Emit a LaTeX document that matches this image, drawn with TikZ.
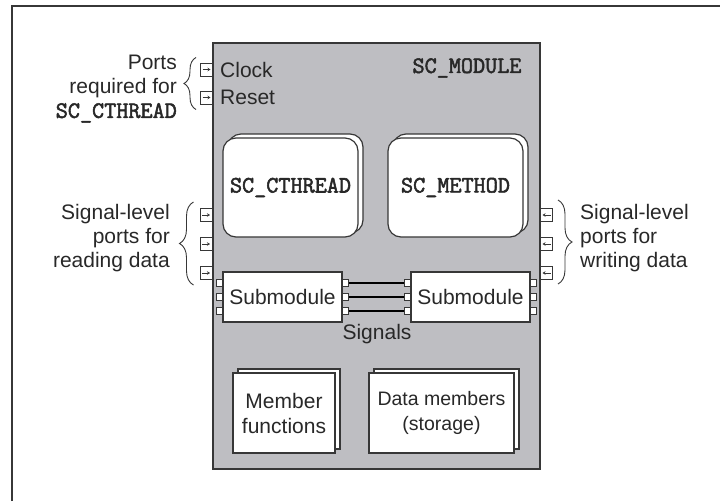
\documentclass[tikz,border=0pt]{standalone}
\usepackage{fontspec}
\setmainfont{Liberation Sans}
\newfontfamily\codefont[AutoFakeBold=2.2]{Latin Modern Mono}
\usetikzlibrary{arrows.meta,decorations.pathreplacing}

\definecolor{modgray}{RGB}{190,190,194}
\definecolor{edge}{RGB}{55,55,55}
\definecolor{ink}{RGB}{40,40,40}

\tikzset{
  every box/.style={draw=edge, line width=1.2pt, fill=white, inner sep=0pt,
    align=center, text=ink, font=\fontsize{21}{25}\selectfont},
  process/.style={every box, rounded corners=13pt, minimum width=135pt,
    minimum height=99pt},
  submod/.style={every box, minimum width=119pt, minimum height=50pt},
  members/.style={every box, minimum height=80pt},
  port/.style={draw=edge, line width=1pt, fill=white, minimum width=12pt,
    minimum height=13pt, inner sep=0pt},
  pin/.style={draw=edge, line width=0.9pt, fill=white, minimum width=6pt,
    minimum height=7pt, inner sep=0pt},
  port arrow/.style={-{Stealth[length=3pt,width=3.5pt]}, line width=0.7pt, edge},
  wire/.style={line width=1.8pt, black},
  brace/.style={decorate, decoration={brace, amplitude=#1}, draw=edge,
    line width=0.9pt},
  label text/.style={inner sep=0pt, text=ink, font=\fontsize{21}{24}\selectfont},
  code/.style={font=\codefont\bfseries\fontsize{23.5}{24}\selectfont}
}

\begin{document}
\begin{tikzpicture}[x=1pt, y=-1pt]
  \useasboundingbox (0,0) rectangle (720,501);
  \draw [edge, line width=1.4pt] (12,501) -- (12,6) -- (720,6);

  % the module
  \node [draw=edge, line width=1.4pt, fill=modgray, minimum width=327pt,
    minimum height=426pt, inner sep=0pt] (module) at (376.5,256) {};
  \node [code, text=ink] (module-name) at (467,68) {SC\_MODULE};

  % processes
  \node [process] (cthread-back) at (295.5,183.5) {};
  \node [process, code] (cthread) at (290.5,187.5) {SC\_CTHREAD};
  \node [process] (method-back) at (460.5,183.5) {};
  \node [process, code] (method) at (455.5,187.5) {SC\_METHOD};

  % clock and reset ports
  \foreach \n/\l/\y in {clock/Clock/69.5, reset/Reset/97.5} {
    \node [port, anchor=east] (port-\n) at (213,\y) {};
    \draw [port arrow] ([xshift=2.5pt]port-\n.west) -- ([xshift=-2.5pt]port-\n.east);
    \node [label text, anchor=west] (label-\n) at (220,\y) {\l};
  }

  % signal-level ports
  \foreach \i/\y in {1/215, 2/244, 3/273} {
    \node [port] (in-\i) at (206,\y) {};
    \draw [port arrow] ([xshift=2.5pt]in-\i.west) -- ([xshift=-2.5pt]in-\i.east);
    \node [port] (out-\i) at (546.5,\y) {};
    \draw [port arrow] ([xshift=-2.5pt]out-\i.east) -- ([xshift=2.5pt]out-\i.west);
  }

  % submodules
  \node [submod] (sub-left) at (282.5,297) {Submodule};
  \node [submod] (sub-right) at (470.5,297) {Submodule};
  \foreach \k/\y in {1/283, 2/297, 3/311} {
    \node [pin, anchor=east] (sl-in-\k) at (223,\y) {};
    \node [pin, anchor=west] (sl-out-\k) at (342,\y) {};
    \node [pin, anchor=east] (sr-in-\k) at (411,\y) {};
    \node [pin, anchor=west] (sr-out-\k) at (530,\y) {};
    \draw [wire] (sl-out-\k.east) -- (sr-in-\k.west);
  }
  \node [label text] (signals) at (377,334) {Signals};

  % member functions and data
  \node [members, minimum width=102pt] (func-back) at (289,409) {};
  \node [members, minimum width=102pt] (func) at (284,413) {Member\\functions};
  \node [members, minimum width=145pt] (data-back) at (446.5,409) {};
  \node [members, minimum width=145pt, font=\fontsize{19.5}{25}\selectfont]
    (data) at (441.5,413) {Data members\\(storage)};

  % braces and notes
  \draw [brace=12pt] ([xshift=-4pt,yshift=-5pt]port-reset.south west)
    -- ([xshift=-4pt,yshift=5pt]port-clock.north west);
  \node [label text, align=right, anchor=east] (note-cthread) at (177,89)
    {Ports\\required for\\{\codefont\bfseries\fontsize{23.5}{24}\selectfont SC\_CTHREAD}};
  \draw [brace=14pt] ([xshift=-6pt,yshift=-5pt]in-3.south west)
    -- ([xshift=-6pt,yshift=6pt]in-1.north west);
  \node [label text, align=right, anchor=east] (note-read) at (170,238)
    {Signal-level\\ports for\\reading data};
  \draw [brace=14pt] ([xshift=5pt,yshift=8pt]out-1.north east)
    -- ([xshift=5pt,yshift=-4pt]out-3.south east);
  \node [label text, align=left, anchor=west] (note-write) at (580,238)
    {Signal-level\\ports for\\writing data};
\end{tikzpicture}
\end{document}
